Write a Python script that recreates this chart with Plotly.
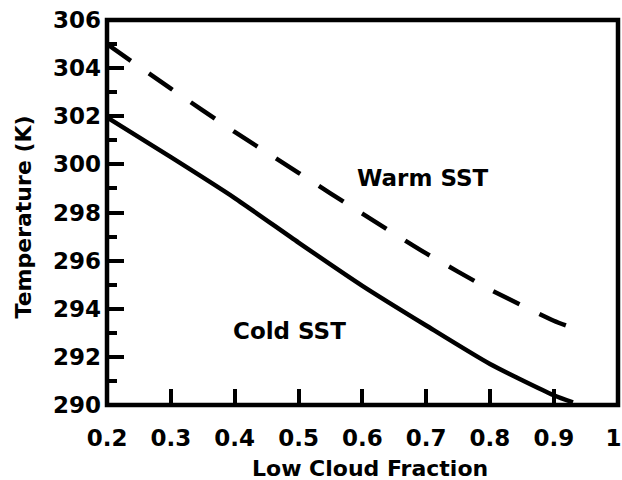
import plotly.graph_objects as go

# Surface temperature versus low cloud fraction for two SST regimes
cloud_frac = [0.2, 0.3, 0.4, 0.5, 0.6, 0.7, 0.8, 0.9, 0.93]
t_warm = [305.0, 303.15, 301.35, 299.65, 297.95, 296.3, 294.8, 293.5, 293.2]
t_cold = [301.95, 300.3, 298.6, 296.75, 294.95, 293.3, 291.7, 290.4, 290.1]

x_ticks = [0.2, 0.3, 0.4, 0.5, 0.6, 0.7, 0.8, 0.9, 1.0]
x_tick_text = ["0.2", "0.3", "0.4", "0.5", "0.6", "0.7", "0.8", "0.9", "1\u00a0"]
y_ticks = [290, 292, 294, 296, 298, 300, 302, 304, 306]

FONT = dict(family="DejaVu Sans", size=22, color="black", weight="bold")
TICK_FONT = dict(FONT, size=23)

fig = go.Figure()
fig.add_trace(go.Scatter(
    x=cloud_frac, y=t_warm, mode="lines",
    line=dict(color="black", width=4.5, dash="29px,22px", shape="spline", smoothing=0.6),
    showlegend=False, hoverinfo="skip",
))
fig.add_trace(go.Scatter(
    x=cloud_frac, y=t_cold, mode="lines",
    line=dict(color="black", width=4.5, shape="spline", smoothing=0.6),
    showlegend=False, hoverinfo="skip",
))

fig.update_xaxes(
    range=[0.1999, 1.0006], tickvals=x_ticks, ticktext=x_tick_text,
    ticks="inside", ticklen=16, tickwidth=3.5, tickcolor="black",
    showline=False, showgrid=False, zeroline=False,
    tickfont=TICK_FONT, ticklabelstandoff=17, ticklabeloverflow="allow",
    automargin=False,
)
fig.update_yaxes(
    range=[289.995, 306.005], tickvals=y_ticks,
    ticks="inside", ticklen=17, tickwidth=4, tickcolor="black",
    minor=dict(dtick=1, ticks="inside", ticklen=10, tickwidth=4, tickcolor="black"),
    showline=False, showgrid=False, zeroline=False,
    tickfont=TICK_FONT, ticklabelstandoff=5, automargin=False,
)

# plot frame
fig.add_shape(type="rect", xref="paper", yref="paper", x0=0, x1=1, y0=0, y1=1,
              line=dict(color="black", width=4.5))

fig.add_annotation(text="Warm SST", x=0.695, y=299.42, xref="x", yref="y",
                   showarrow=False, font=dict(FONT, size=23))
fig.add_annotation(text="Cold SST", x=0.4865, y=293.07, xref="x", yref="y",
                   showarrow=False, font=dict(FONT, size=23))

# axis titles
fig.add_annotation(text="Low Cloud Fraction", x=0.5148, y=-0.166, xref="paper", yref="paper",
                   xanchor="center", yanchor="middle", showarrow=False, font=FONT)
fig.add_annotation(text="Temperature (K)", x=-0.163, y=0.489, xref="paper", yref="paper",
                   xanchor="center", yanchor="middle", textangle=-90, showarrow=False, font=FONT)

fig.update_layout(
    width=622, height=480,
    margin=dict(l=107.2, r=4.3, t=19.5, b=75, pad=0, autoexpand=False),
    plot_bgcolor="white", paper_bgcolor="white",
)

fig.write_html("out.html")
